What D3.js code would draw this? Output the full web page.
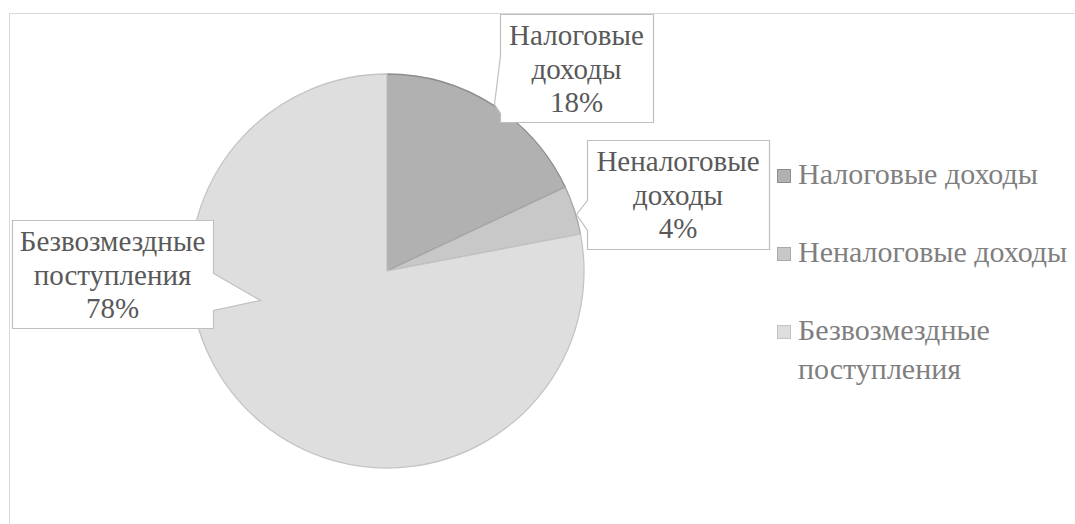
<!DOCTYPE html>
<html><head><meta charset="utf-8">
<script src="https://cdn.jsdelivr.net/npm/d3@7"></script>
<style>body{margin:0;background:#fff}svg{display:block}</style>
</head><body>
<svg id="c" width="1075" height="524"></svg>
<script>
const categories = ["Налоговые доходы", "Неналоговые доходы", "Безвозмездные поступления"];
const values = [18, 4, 78];
const labelLines = [["Налоговые","доходы","18%"],["Неналоговые","доходы","4%"],["Безвозмездные","поступления","78%"]];
const legendLines = [["Налоговые доходы"],["Неналоговые доходы"],["Безвозмездные","поступления"]];
const fills = ["#b1b1b1", "#c8c8c8", "#dedede"];
const strokes = ["#8c8c8c", "#a8a8a8", "#c4c4c4"];

const svg = d3.select("#c");
svg.append("rect").attr("x",9.5).attr("y",13.5).attr("width",1100).attr("height",600)
  .attr("fill","#fff").attr("stroke","#d9d9d9");

const cx = 387, cy = 271, R = 197;
const pie = d3.pie().sort(null).value(d=>d);
const arcs = pie(values);
const arc = d3.arc().innerRadius(0).outerRadius(R);
const g = svg.append("g").attr("transform",`translate(${cx},${cy})`);
g.selectAll("path").data(arcs).join("path")
  .attr("d",arc).attr("fill",(d,i)=>fills[i]).attr("stroke",(d,i)=>strokes[i]).attr("stroke-width",1.3);

function addText(x,y,str,size,color,anchor){
  svg.append("text").attr("x",x).attr("y",y).attr("text-anchor",anchor)
    .style("font-family",'"Liberation Serif"').attr("font-size",size).attr("fill",color).text(str);
}

const callouts = [
  {box:[500,14,653,122], side:"left", base:[55,113], tip:[494,104]},
  {box:[587,140,769,249], side:"left", base:[200,230], tip:[576,214]},
  {box:[12,220,213,328], side:"right", base:[273,310], tip:[260,300]}
];
callouts.forEach((c,i)=>{
  const [x0,y0,x1,y1]=c.box;
  let p;
  if(c.side==="left"){
    p=`M${x0},${y0}H${x1}V${y1}H${x0}V${c.base[1]}L${c.tip[0]},${c.tip[1]}L${x0},${c.base[0]}Z`;
  } else {
    p=`M${x0},${y0}H${x1}V${c.base[0]}L${c.tip[0]},${c.tip[1]}L${x1},${c.base[1]}V${y1}H${x0}Z`;
  }
  svg.append("path").attr("d",p).attr("fill","#fff").attr("stroke","#bfbfbf").attr("stroke-width",1.2)
    .attr("transform","translate(0.5,0.5)");
  const mx=(x0+x1)/2;
  const firstBase = y0+31;
  labelLines[i].forEach((ln,j)=> addText(mx, firstBase+j*33.5, ln, 29, "#595959", "middle"));
});

const legY = [184, 262, 340];
categories.forEach((cat,i)=>{
  svg.append("rect").attr("x",777.5).attr("y",legY[i]-14.5).attr("width",13).attr("height",13)
    .attr("fill",fills[i]).attr("stroke",strokes[i]);
  legendLines[i].forEach((ln,j)=> addText(798, legY[i]+j*39, ln, 30, "#7f7f7f", "start"));
});
</script>
</body></html>
